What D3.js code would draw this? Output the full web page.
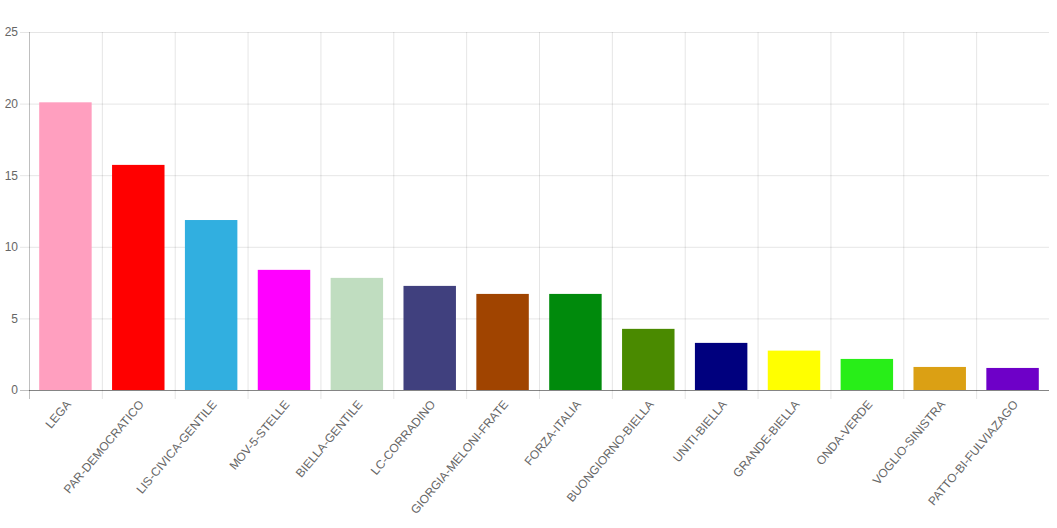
<!DOCTYPE html>
<html>
<head>
<meta charset="utf-8">
<script src="https://cdn.jsdelivr.net/npm/d3@7"></script>
<style>
  body { margin: 0; background: #fff; }
  svg { display: block; }
</style>
</head>
<body>
<svg id="chart"></svg>
<script>
const parties = ["LEGA", "PAR-DEMOCRATICO", "LIS-CIVICA-GENTILE", "MOV-5-STELLE", "BIELLA-GENTILE",
  "LC-CORRADINO", "GIORGIA-MELONI-FRATE", "FORZA-ITALIA", "BUONGIORNO-BIELLA", "UNITI-BIELLA",
  "GRANDE-BIELLA", "ONDA-VERDE", "VOGLIO-SINISTRA", "PATTO-BI-FULVIAZAGO"];
const percent = [20.09, 15.72, 11.87, 8.39, 7.83, 7.27, 6.71, 6.71, 4.27, 3.29, 2.75, 2.17, 1.61, 1.54];
const colors = ["#ff9fbf", "#ff0000", "#31afe0", "#ff00ff", "#c0ddc0", "#40407e", "#a04400",
  "#008a0c", "#4a8a00", "#00007e", "#ffff00", "#28ee18", "#dba014", "#6e00c8"];
const yTicks = [0, 5, 10, 15, 20, 25];

const width = 1057;
const height = 528;
const margin = { top: 32, right: 8, bottom: 138, left: 29 };

const svg = d3.select("#chart")
  .attr("width", width)
  .attr("height", height)
  .style("font-family", "Arial, 'Liberation Sans', sans-serif");

const x = d3.scaleBand()
  .domain(parties)
  .range([margin.left, width - margin.right])
  .paddingInner(0)
  .paddingOuter(0);

const y = d3.scaleLinear()
  .domain([0, 25])
  .range([height - margin.bottom, margin.top]);

// horizontal grid + y axis
const yAxis = d3.axisLeft(y)
  .tickValues(yTicks)
  .tickSize(-(width - margin.right - margin.left))
  .tickPadding(11)
  .tickFormat(d3.format("d"));

const gy = svg.append("g")
  .attr("transform", `translate(${margin.left},0)`)
  .call(yAxis);
gy.select(".domain").remove();
gy.selectAll(".tick line")
  .attr("x1", -9)
  .attr("stroke", d => d === 0 ? "rgba(0,0,0,0.25)" : "rgba(0,0,0,0.1)");
gy.selectAll(".tick text")
  .attr("fill", "#666")
  .attr("font-size", 12);

// vertical grid lines at category boundaries
const bounds = parties.map(p => x(p));
svg.append("g")
  .selectAll("line")
  .data(bounds)
  .join("line")
  .attr("x1", d => d + 0.5)
  .attr("x2", d => d + 0.5)
  .attr("y1", margin.top)
  .attr("y2", height - margin.bottom + 9)
  .attr("stroke", (d, i) => i === 0 ? "rgba(0,0,0,0.25)" : "rgba(0,0,0,0.1)")
  .attr("stroke-width", 1);

// bars
const barW = x.bandwidth() * 0.72;
svg.append("g")
  .selectAll("rect")
  .data(parties)
  .join("rect")
  .attr("x", d => x(d) + (x.bandwidth() - barW) / 2)
  .attr("y", (d, i) => y(percent[i]))
  .attr("width", barW)
  .attr("height", (d, i) => y(0) - y(percent[i]))
  .attr("fill", (d, i) => colors[i]);

// zero line on top
svg.append("line")
  .attr("x1", margin.left)
  .attr("x2", width - margin.right)
  .attr("y1", y(0) + 0.5)
  .attr("y2", y(0) + 0.5)
  .attr("stroke", "rgba(0,0,0,0.3)");

// rotated category labels
svg.append("g")
  .selectAll("text")
  .data(parties)
  .join("text")
  .attr("transform", d => `translate(${x(d) + x.bandwidth() / 2 + 3},${y(0) + 12}) rotate(-50)`)
  .attr("text-anchor", "end")
  .attr("dy", "0.35em")
  .attr("fill", "#666")
  .attr("font-size", 12)
  .text(d => d);
</script>
</body>
</html>
